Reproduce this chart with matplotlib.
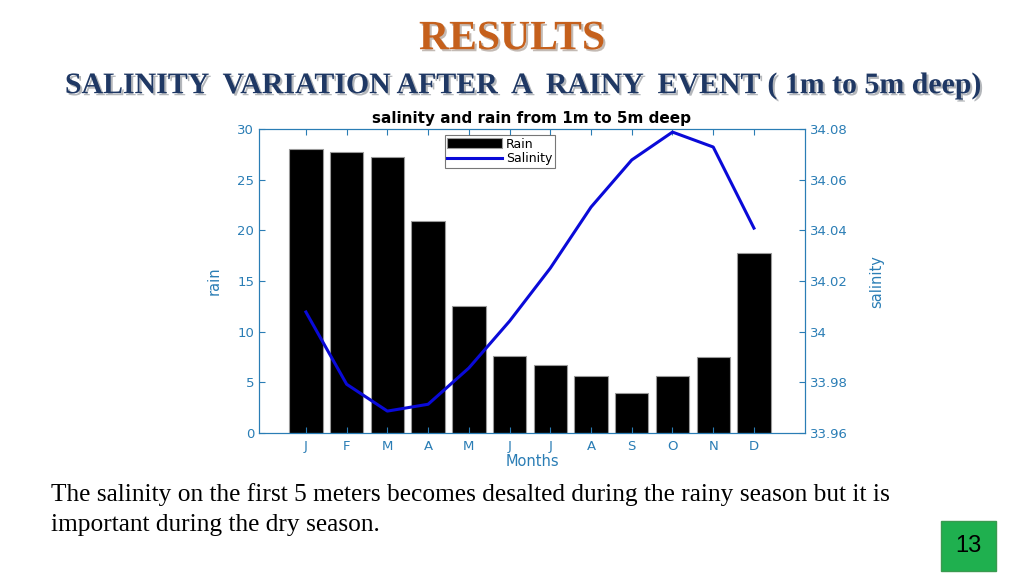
import matplotlib
matplotlib.use('agg')
import matplotlib.pyplot as plt
import matplotlib.patheffects as pe
import numpy as np

months = ['J', 'F', 'M', 'A', 'M', 'J', 'J', 'A', 'S', 'O', 'N', 'D']
rain = [28.0, 27.7, 27.2, 20.9, 12.5, 7.6, 6.7, 5.6, 4.0, 5.6, 7.5, 17.8]
salinity = [34.0078, 33.9793, 33.9687, 33.9714, 33.9857, 34.0042,
            34.0251, 34.0492, 34.0678, 34.0788, 34.0729, 34.0409]
sal_ticks = [33.96, 33.98, 34.0, 34.02, 34.04, 34.06, 34.08]
sal_labels = ['33.96', '33.98', '34', '34.02', '34.04', '34.06', '34.08']

axis_blue = '#2a7db5'
plt.rcParams['font.family'] = ['DejaVu Sans']

fig = plt.figure(figsize=(10.24, 5.76), dpi=100)

# slide text
shadow = [pe.withSimplePatchShadow(offset=(1.5, -1.5), alpha=0.3)]
fig.text(0.5, 0.932, 'RESULTS', ha='center', va='center', fontsize=30,
	fontweight='bold', family='Liberation Serif', color='#c5601c', path_effects=shadow)
fig.text(0.5115, 0.851, 'SALINITY  VARIATION AFTER  A  RAINY  EVENT ( 1m to 5m deep)',
	ha='center', va='center', fontsize=21.5, fontweight='bold',
	family='Liberation Serif', color='#1f3864', path_effects=shadow)
fig.text(0.05, 0.141, 'The salinity on the first 5 meters becomes desalted during the rainy season but it is',
	ha='left', va='center', fontsize=18.3, family='Liberation Serif', color='black')
fig.text(0.05, 0.088, 'important during the dry season.',
	ha='left', va='center', fontsize=18.3, family='Liberation Serif', color='black')
fig.text(0.946, 0.052, '13', ha='center', va='center', fontsize=17, color='black',
	family='Liberation Sans',
	bbox=dict(boxstyle='square,pad=0.6', facecolor='#1fb04f', edgecolor='#3a9a50'))

ax = fig.add_axes([0.253, 0.248, 0.533, 0.528])
x = np.arange(1, 13)
bars = ax.bar(x, rain, width=0.82, color='black', edgecolor='#9a9a9a', linewidth=0.8, label='Rain')
ax.set_xlim(-0.15, 13.25)
ax.set_ylim(0, 30)
ax.set_yticks([0, 5, 10, 15, 20, 25, 30])
ax.set_xticks(x)
ax.set_xticklabels(months)
ax.set_ylabel('rain', color=axis_blue, fontsize=10.5)
ax.set_xlabel('Months', color=axis_blue, fontsize=10.5, labelpad=1)
ax.set_title('salinity and rain from 1m to 5m deep', fontsize=11, fontweight='bold', pad=4)
ax.tick_params(axis='both', colors=axis_blue, labelsize=9.5, direction='in', length=4,
	top=True)
ax.tick_params(axis='x', pad=5)
for s in ax.spines.values():
	s.set_color(axis_blue)
ax.yaxis.set_label_coords(-0.068, 0.5)

ax2 = ax.twinx()
line, = ax2.plot(x, salinity, color='#0a0ad8', linewidth=2.2, label='Salinity')
ax2.set_ylim(33.96, 34.08)
ax2.set_yticks(sal_ticks)
ax2.set_yticklabels(sal_labels)
ax2.tick_params(axis='y', colors=axis_blue, labelsize=9.5, direction='in', length=4)
ax2.set_ylabel('salinity', color=axis_blue, fontsize=10.5)
ax2.yaxis.set_label_coords(1.118, 0.5)
for s in ax2.spines.values():
	s.set_color(axis_blue)

leg = ax2.legend([bars, line], ['Rain', 'Salinity'], loc='upper left',
	bbox_to_anchor=(0.34, 0.98), fontsize=9, frameon=True, fancybox=False,
	handlelength=4.4, handleheight=0.9, borderpad=0.2, labelspacing=0.15,
	handletextpad=0.3, borderaxespad=0)
leg.get_frame().set_edgecolor('#555555')
leg.get_frame().set_linewidth(0.8)

plt.savefig('out.png', dpi=100)
plt.close()
